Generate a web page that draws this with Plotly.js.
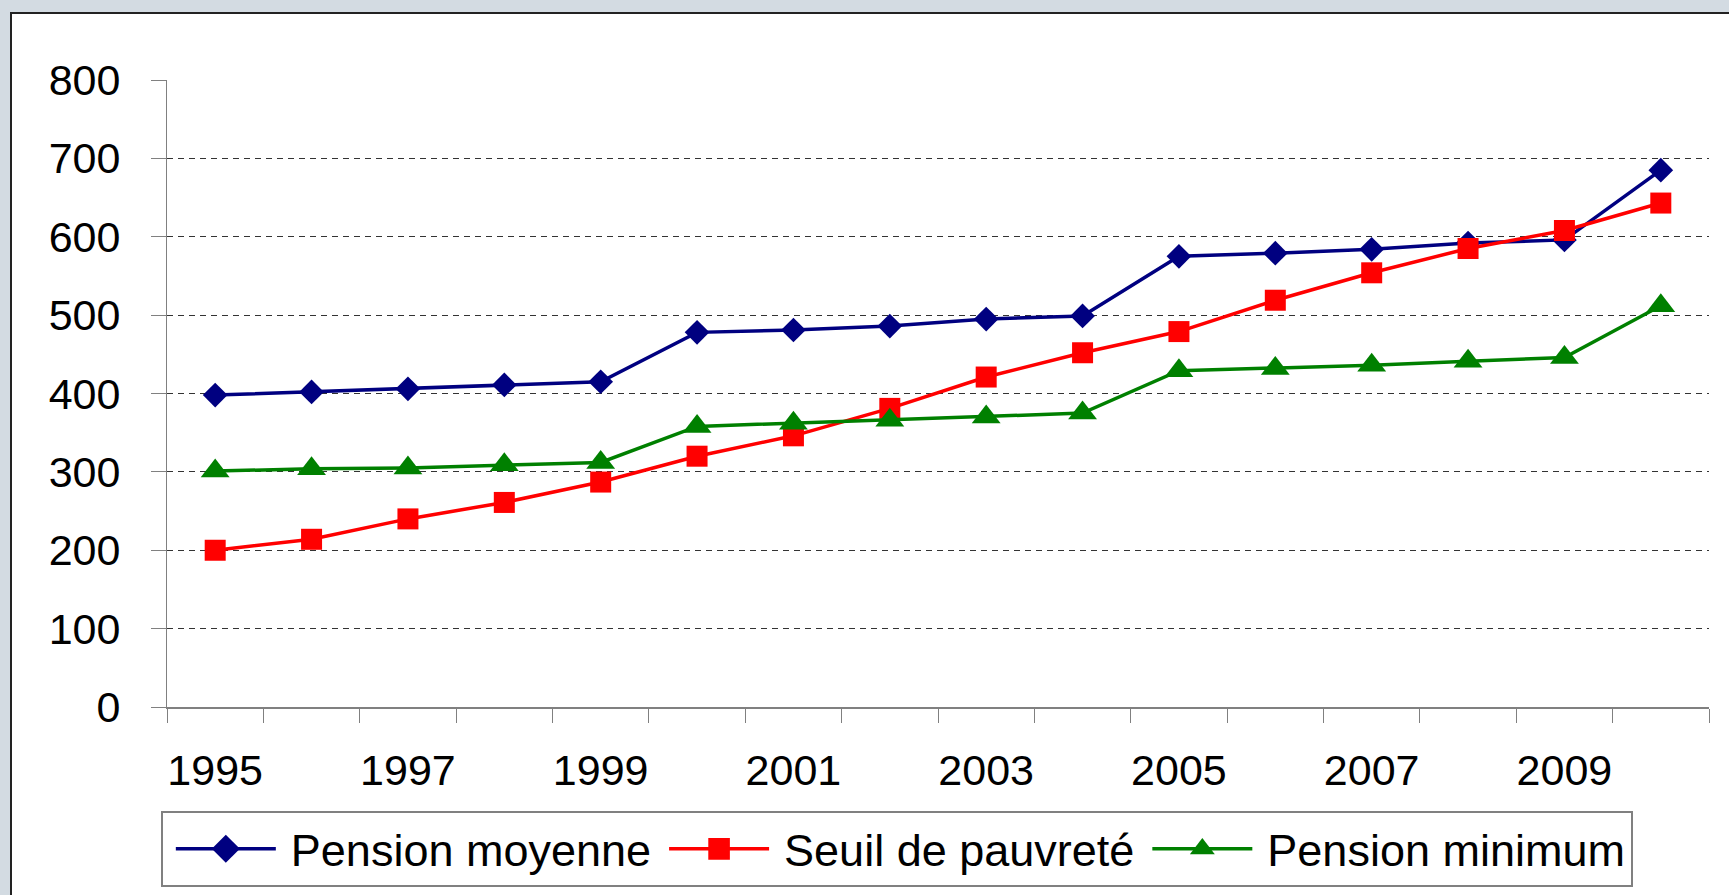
<!DOCTYPE html>
<html>
<head>
<meta charset="utf-8">
<script src="https://cdn.plot.ly/plotly-3.0.1.min.js"></script>
<style>
  html, body { margin: 0; padding: 0; width: 1729px; height: 895px; overflow: hidden; background: #d3dbe2; }
  #frame { position: absolute; left: 10px; top: 12px; width: 1760px; height: 920px; background: #ffffff;
           border-left: 2px solid #222; border-top: 2px solid #222; }
  #chart { position: absolute; left: 0; top: 0; width: 1729px; height: 895px; }
</style>
</head>
<body>
<div id="frame"></div>
<div id="chart"></div>
<script>
const years = [1995, 1996, 1997, 1998, 1999, 2000, 2001, 2002, 2003, 2004, 2005, 2006, 2007, 2008, 2009, 2010];
const pensionMoyenne = [398, 402, 406, 411, 415, 478, 481, 486, 495, 499, 575, 579, 584, 592, 596, 685];
const seuilPauvrete = [200, 214, 240, 261, 287, 320, 346, 381, 421, 452, 479, 519, 554, 585, 608, 643];
const pensionMinimum = [301, 304, 305, 309, 312, 358, 362, 366, 370, 375, 429, 432, 436, 441, 446, 512];
const seriesNames = ['Pension moyenne', 'Seuil de pauvreté', 'Pension minimum'];
const xTickLabels = [1995, 1997, 1999, 2001, 2003, 2005, 2007, 2009];
const yTicks = [0, 100, 200, 300, 400, 500, 600, 700, 800];
const gridValues = [100, 200, 300, 400, 500, 600, 700];

const FONT = 'Liberation Sans, Arial, sans-serif';

const traces = [
  { x: years, y: pensionMoyenne, name: seriesNames[0], type: 'scatter', mode: 'lines+markers',
    line: { color: '#000080', width: 3.5 }, marker: { symbol: 'diamond', size: 19, color: '#000080' } },
  { x: years, y: seuilPauvrete, name: seriesNames[1], type: 'scatter', mode: 'lines+markers',
    line: { color: '#ff0000', width: 3.5 }, marker: { symbol: 'square', size: 21, color: '#ff0000' } },
  { x: years, y: pensionMinimum, name: seriesNames[2], type: 'scatter', mode: 'lines+markers',
    line: { color: '#008000', width: 3.5 }, marker: { symbol: 'triangle-up', size: 25, color: '#008000' } },
  // invisible trace on overlay axis that only carries the dashed gridlines
  { x: [years[0]], y: [0], yaxis: 'y2', type: 'scatter', mode: 'markers', showlegend: false,
    hoverinfo: 'skip', marker: { opacity: 0 } }
];

const layout = {
  width: 1729, height: 895,
  margin: { l: 167, r: 20, t: 80, b: 188, autoexpand: false },
  paper_bgcolor: 'rgba(0,0,0,0)',
  plot_bgcolor: '#ffffff',
  font: { family: FONT, size: 43, color: '#000' },
  showlegend: true,
  xaxis: {
    type: 'linear', range: [1994.5, 2010.5],
    tickmode: 'array', tickvals: xTickLabels, ticktext: xTickLabels.map(String),
    ticks: 'outside', ticklen: 14, tickcolor: 'rgba(0,0,0,0)',
    ticklabelstandoff: 10,
    showline: true, linecolor: '#808080', linewidth: 2,
    showgrid: false, zeroline: false,
    tickfont: { family: FONT, size: 43, color: '#000' },
    minor: { tick0: 1994.5, dtick: 1, ticks: 'outside', ticklen: 14, tickcolor: '#808080', tickwidth: 1, showgrid: false }
  },
  yaxis: {
    range: [0, 800], tickmode: 'array', tickvals: yTicks,
    ticks: 'outside', ticklen: 15, tickcolor: '#808080', tickwidth: 1,
    ticklabelstandoff: 22,
    showline: true, linecolor: '#808080', linewidth: 1,
    showgrid: false, zeroline: false,
    tickfont: { family: FONT, size: 43, color: '#000' }
  },
  yaxis2: {
    overlaying: 'y', range: [0, 800], tickmode: 'array', tickvals: gridValues,
    showticklabels: false, ticks: '', showline: false, zeroline: false,
    showgrid: true, gridcolor: '#333333', gridwidth: 1, griddash: '6px,5px'
  },
  legend: {
    orientation: 'h', x: -0.004, xanchor: 'left', y: -0.166, yanchor: 'top',
    bgcolor: '#ffffff', bordercolor: '#808080', borderwidth: 2,
    font: { family: FONT, size: 45, color: '#000' },
    itemwidth: 118, traceorder: 'normal'
  }
};

Plotly.newPlot('chart', traces, layout, { displayModeBar: false, staticPlot: true }).then(function (gd) {
  // Excel-style legend keys: longer line with the marker centred on it
  gd.querySelectorAll('.legend .legendlines path').forEach(function (p) {
    p.setAttribute('d', 'M13,0h100');
    p.style.strokeWidth = '3.5px';
  });
  gd.querySelectorAll('.legend .legendpoints path').forEach(function (p) {
    p.setAttribute('transform', 'translate(63,0) scale(1.35)');
  });
});
</script>
</body>
</html>
